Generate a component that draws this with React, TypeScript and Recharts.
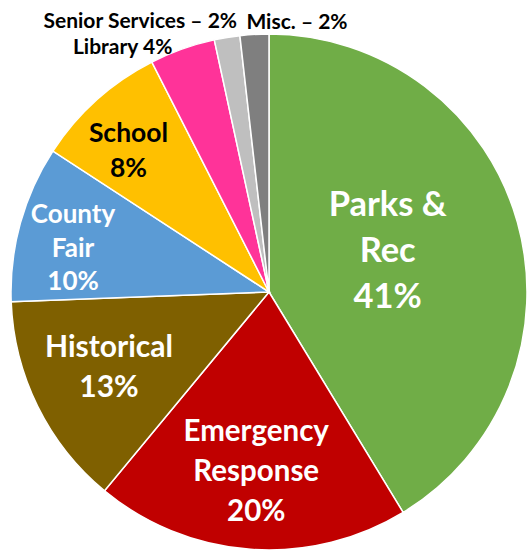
import React from 'react';
import { PieChart, Pie, Cell } from 'recharts';

const categories = ['Parks & Rec', 'Emergency Response', 'Historical', 'County Fair', 'School', 'Library', 'Senior Services', 'Misc.'];
const shares = [41.3, 19.7, 13.4, 9.8, 8.3, 4.1, 1.6, 1.8];
const labelLines = [
  ['Parks &', 'Rec', '41%'],
  ['Emergency', 'Response', '20%'],
  ['Historical', '13%'],
  ['County', 'Fair', '10%'],
  ['School', '8%'],
  ['Library 4%'],
  ['Senior Services \u2013 2%'],
  ['Misc. \u2013 2%'],
];

const colors = ['#70AD47', '#C00000', '#7F6000', '#5B9BD5', '#FFC000', '#FF3399', '#BFBFBF', '#7F7F7F'];
const textColors = ['#fff', '#fff', '#fff', '#fff', '#000', '#000', '#000', '#000'];
const fontSizes = [34.5, 29.5, 30, 26, 26.5, 21, 21, 21];
const lineHeights = [46, 40, 40, 33.5, 35, 20, 20, 20];
// [radiusFactor, nudgeX, nudgeY, anchor, inside]
const labelLayout: [number, number, number, string, boolean][] = [
  [0.49, -3, -8, 'middle', true],
  [0.685, 0, 2, 'middle', true],
  [0.683, -2, -4, 'middle', true],
  [0.78, -2, 9, 'middle', true],
  [0.78, -6, 8, 'middle', true],
  [1, -10, 5, 'end', false],
  [1, 10, -9, 'end', false],
  [1, -8, -5.5, 'start', false],
];

const data = categories.map((name, i) => ({ name, value: shares[i] }));
const RAD = Math.PI / 180;
const FONT = 'Lato, "Open Sans", sans-serif';

const renderLabel = (props: any) => {
  const { cx, cy, midAngle, outerRadius, index } = props;
  const [f, nx, ny, anchor, inside] = labelLayout[index];
  const r = outerRadius * f;
  const px = cx + r * Math.cos(-midAngle * RAD) + nx;
  const py = cy + r * Math.sin(-midAngle * RAD) + ny;
  const lines = labelLines[index];
  const fs = fontSizes[index];
  const lh = lineHeights[index];
  const capH = fs * 0.72;
  const first = inside ? py - ((lines.length - 1) / 2) * lh + capH / 2 : py;
  return (
    <text
      key={`lbl-${index}`}
      x={px}
      y={first}
      textAnchor={anchor as any}
      fill={textColors[index]}
      fontSize={fs}
      fontWeight={700}
      fontFamily={FONT}
    >
      {lines.map((ln, i) => (
        <tspan key={i} x={px} y={first + i * lh}>
          {ln}
        </tspan>
      ))}
    </text>
  );
};

export default function App() {
  return (
    <div style={{ position: 'absolute', left: 0, top: 0, width: 529, height: 552, background: '#fff' }}>
      <PieChart width={529} height={552} margin={{ top: 0, right: 0, bottom: 0, left: 0 }}>
        <Pie
          data={data}
          dataKey="value"
          nameKey="name"
          cx={269}
          cy={292}
          outerRadius={258}
          startAngle={90}
          endAngle={-270}
          stroke="#fff"
          strokeWidth={1.5}
          label={renderLabel}
          labelLine={false}
          isAnimationActive={false}
        >
          {data.map((d, i) => (
            <Cell key={d.name} fill={colors[i]} />
          ))}
        </Pie>
      </PieChart>
    </div>
  );
}
